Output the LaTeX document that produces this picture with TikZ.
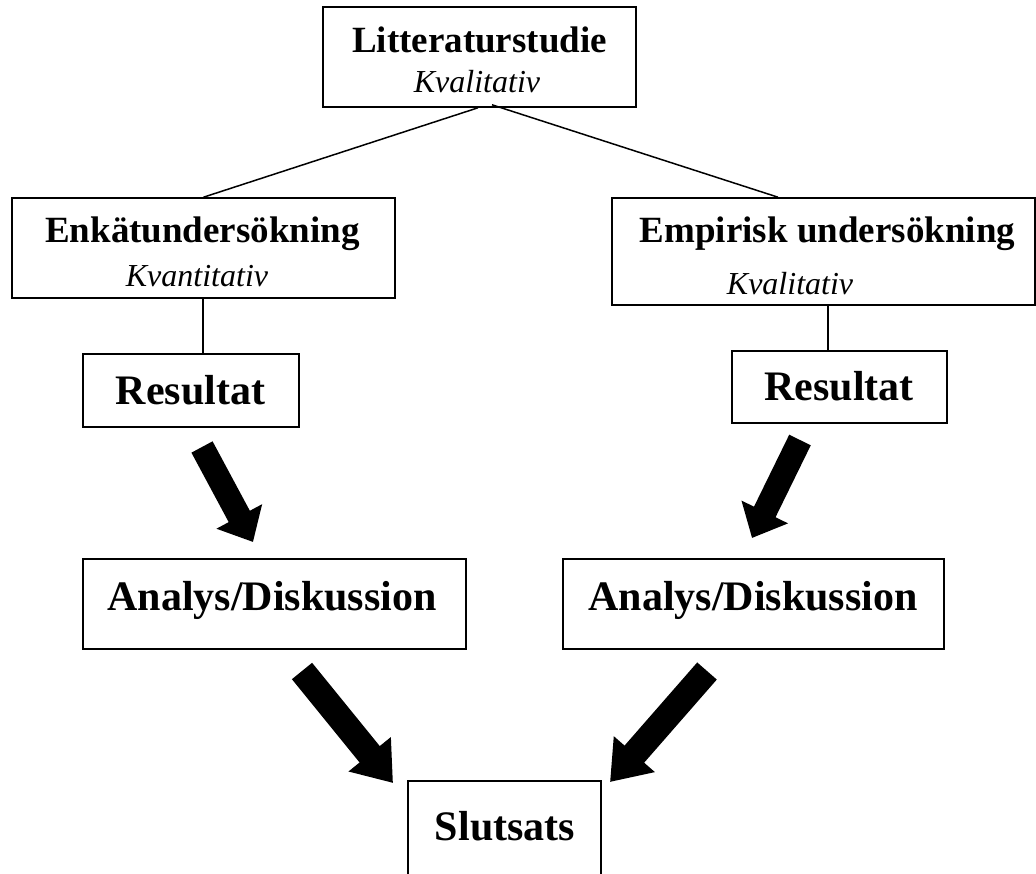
\documentclass[tikz,border=0pt]{standalone}
\usepackage{fontspec}
\setmainfont{Liberation Serif}
\usetikzlibrary{arrows.meta}

\begin{document}
\begin{tikzpicture}[x=1pt,y=-1pt,
    box/.style={draw, line width=1.6pt, inner sep=0pt},
    head/.style={anchor=base, inner sep=0pt, font=\fontsize{37}{40}\selectfont\bfseries},
    bighead/.style={anchor=base, inner sep=0pt, font=\fontsize{42}{46}\selectfont\bfseries},
    kind/.style={anchor=base, inner sep=0pt, font=\fontsize{32}{36}\selectfont\itshape},
    link/.style={line width=1.5pt},
    fatarrow/.style={line width=24pt, -{Triangle[length=29pt, width=50pt]}},
    fatterarrow/.style={line width=26pt, -{Triangle[length=37pt, width=52pt]}}]
        \useasboundingbox (0,0) rectangle (1036,874);

        % Boxes
        \foreach \n/\x/\y/\w/\h in {litt/479.5/57/313/100, enk/203.5/248/383/100,
            emp/823.5/251.5/423/107, resL/191/390.5/216/73, resR/839.5/387/215/72,
            anaL/274.5/604/383/90, anaR/753.5/604/381/90, slut/504.5/830.5/193/99}
            \node[box, minimum width=\w pt, minimum height=\h pt] (\n) at (\x,\y) {};

        % Texts
        \node[head] (littT) at (479.5,53) {Litteraturstudie};
        \node[kind] (littK) at (477,93) {Kvalitativ};
        \node[head] (enkT) at (202.5,243) {Enkätundersökning};
        \node[kind] (enkK) at (197,287) {Kvantitativ};
        \node[head] (empT) at (827.5,243) {Empirisk undersökning};
        \node[kind] (empK) at (790,295) {Kvalitativ};
        \node[bighead] (resLT) at (190.5,404) {Resultat};
        \node[bighead] (resRT) at (839,400) {Resultat};
        \node[bighead] (anaLT) at (272,610) {Analys/Diskussion};
        \node[bighead] (anaRT) at (753,610) {Analys/Diskussion};
        \node[bighead] (slutT) at (505,840) {Slutsats};

        % Lines
        \draw[link] ([xshift=-1.5pt]litt.south) -- (enk.north);
        \draw[link] ([shift={(12.5,-3)}]litt.south) -- ([xshift=-45.5pt]emp.north);
        \draw[link] ([xshift=-0.5pt]enk.south) -- ([xshift=-0.5pt]enk.south |- resL.north);
        \draw[link] ([xshift=4.5pt]emp.south) -- ([xshift=4.5pt]emp.south |- resR.north);

        % Block arrows
        \coordinate (resL-out) at (202,447);
        \coordinate (anaL-in) at (253,542);
        \coordinate (resR-out) at (800,440);
        \coordinate (anaR-in) at (752,538);
        \coordinate (anaL-out) at (302,671);
        \coordinate (anaR-out) at (707,671);
        \coordinate (slut-inL) at (393,783);
        \coordinate (slut-inR) at (610,782);
        \draw[fatarrow] (resL-out) -- (anaL-in);
        \draw[fatarrow] (resR-out) -- (anaR-in);
        \draw[fatterarrow] (anaL-out) -- (slut-inL);
        \draw[fatterarrow] (anaR-out) -- (slut-inR);
    \end{tikzpicture}
\end{document}
